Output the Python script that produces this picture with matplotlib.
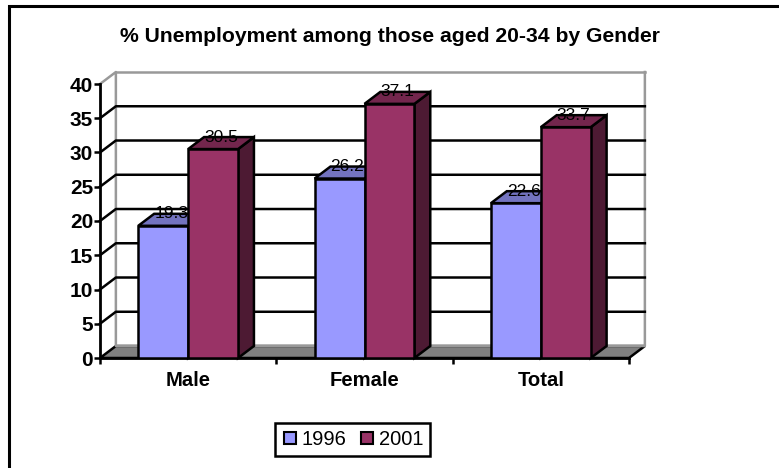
import matplotlib.pyplot as plt
from matplotlib.patches import Polygon, Rectangle
from matplotlib.lines import Line2D

# unemployment rates (%) for people aged 20-34
categories = ['Male', 'Female', 'Total']
years = ['1996', '2001']
values_1996 = [19.3, 26.2, 22.6]
values_2001 = [30.5, 37.1, 33.7]
yticks = list(range(0, 41, 5))

front_colors = ['#9999FF', '#993366']
top_colors = ['#7373BF', '#73264D']
side_colors = ['#4D4D80', '#4D1A33']

plt.rcParams['font.family'] = ['Liberation Sans', 'DejaVu Sans']

fig = plt.figure(figsize=(7.79, 4.68), dpi=100)
ax = fig.add_axes([100 / 779, 110 / 468, 529 / 779, 274 / 468])
ax.set_xlim(0, 3)
ax.set_ylim(0, 40)
ax.set_facecolor('none')

# fake 3d depth offsets (data units)
dx, dy = 0.09, 1.75
xmax, ymax = 3, 40
lw = 1.8

# walls and floor
ax.add_patch(Polygon([(dx, dy), (xmax + dx, dy), (xmax + dx, ymax + dy), (dx, ymax + dy)],
                     facecolor='white', edgecolor='none', zorder=0.5, clip_on=False))
ax.add_patch(Polygon([(0, 0), (dx, dy), (xmax + dx, dy), (xmax, 0)],
                     facecolor='#808080', edgecolor='black', lw=lw, zorder=0.6, clip_on=False))
ax.plot([0, dx, dx, xmax + dx, xmax + dx], [ymax, ymax + dy, dy, dy, ymax + dy],
        color='#999999', lw=lw, zorder=0.7, clip_on=False)
ax.plot([dx, xmax + dx], [ymax + dy, ymax + dy], color='#999999', lw=lw, zorder=0.7, clip_on=False)
for v in yticks[1:-1]:
    ax.plot([0, dx, xmax + dx], [v, v + dy, v + dy], color='black', lw=lw,
            zorder=0.8, clip_on=False)

w = 0.283
for j, vals in enumerate([values_1996, values_2001]):
    z = 3 + j
    for i, h in enumerate(vals):
        x0 = i + 0.5 + (j - 1) * w
        ax.add_patch(Polygon([(x0 + w, 0), (x0 + w + dx, dy), (x0 + w + dx, h + dy), (x0 + w, h)],
                             facecolor=side_colors[j], edgecolor='black', lw=lw, zorder=z,
                             clip_on=False))
        ax.add_patch(Polygon([(x0, h), (x0 + w, h), (x0 + w + dx, h + dy), (x0 + dx, h + dy)],
                             facecolor=top_colors[j], edgecolor='black', lw=lw, zorder=z,
                             clip_on=False))
        ax.bar(x0, h, width=w, align='edge', color=front_colors[j], edgecolor='black',
               lw=lw, zorder=z)
        ax.text(x0 + w / 2 + dx / 2, h + dy, f'{h}', ha='center', va='center',
                fontsize=12.5, zorder=z + 0.5)

# axes
for s in ['top', 'right']:
    ax.spines[s].set_visible(False)
for s in ['left', 'bottom']:
    ax.spines[s].set_linewidth(2)
    ax.spines[s].set_zorder(2.5)
ax.set_yticks(yticks)
ax.tick_params(axis='y', length=4, width=1.8, pad=1, labelsize=15)
for t in ax.get_yticklabels():
    t.set_fontweight('bold')
ax.set_xticks([0.5, 1.5, 2.5], categories, fontsize=14.6, fontweight='bold')
ax.set_xticks([0, 1, 2, 3], minor=True)
ax.tick_params(axis='x', which='major', length=0, pad=9)
ax.tick_params(axis='x', which='minor', length=4, width=1.8)

fig.text(0.5, 1 - 37 / 468, '% Unemployment among those aged 20-34 by Gender',
         ha='center', va='center', fontsize=15.2, fontweight='bold')

handles = [Line2D([], [], marker='s', ls='none', markersize=9, markerfacecolor=c,
                  markeredgecolor='black', markeredgewidth=1.5) for c in front_colors]
leg = fig.legend(handles, years, ncol=2, loc='center', bbox_to_anchor=(0.4525, 0.061),
                 frameon=True, fancybox=False, edgecolor='black', framealpha=1,
                 handlelength=0.8, handletextpad=0.2, columnspacing=0.6, borderpad=0.35,
                 fontsize=14.5)
leg.get_frame().set_linewidth(1.8)

# outer chart frame
fig.patches.append(Rectangle((9 / 779, -0.1), 1.2, 1.1 - 6 / 468, fill=False,
                             edgecolor='black', lw=2.2, transform=fig.transFigure))

fig.savefig('out.png', dpi=100)
